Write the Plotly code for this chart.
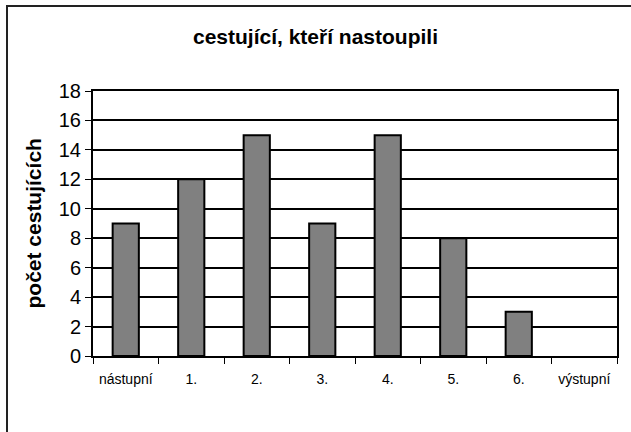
import plotly.graph_objects as go

categories = ["nástupní", "1.", "2.", "3.", "4.", "5.", "6.", "výstupní"]
values = [9, 12, 15, 9, 15, 8, 3, 0]
y_ticks = [0, 2, 4, 6, 8, 10, 12, 14, 16, 18]

W, H = 631, 432
L, R, T, B = 93, 14, 91, 76
pw, ph = W - L - R, H - T - B

def px(x):
    return (x - L) / pw

def py(y):
    return (H - B - y) / ph

fig = go.Figure()
fig.add_trace(go.Bar(
    x=categories, y=values, width=0.4,
    marker=dict(color="#808080",
                line=dict(color="black", width=[2 if v > 0 else 0 for v in values])),
))

fig.update_layout(
    width=W, height=H,
    margin=dict(l=L, r=R, t=T, b=B, autoexpand=False),
    paper_bgcolor="white", plot_bgcolor="white",
    showlegend=False,
    font=dict(family="Liberation Sans, Arial, sans-serif", color="black"),
    title=dict(text="<b>cestující, kteří nastoupili</b>", x=0.5, xref="container",
               xanchor="center", yref="container", y=1 - 37 / H, yanchor="middle",
               font=dict(size=21)),
    shapes=[dict(type="rect", xref="paper", yref="paper",
                 x0=px(7), x1=px(645), y0=py(6), y1=py(445),
                 line=dict(color="#222", width=2), layer="below")],
    annotations=[dict(text="<b>počet cestujících</b>", xref="paper", yref="paper",
                      x=px(33), y=0.5, xanchor="center", yanchor="middle",
                      textangle=-90, showarrow=False, font=dict(size=21))],
)
fig.update_xaxes(
    type="category", tickson="boundaries", ticks="outside", ticklen=6,
    tickwidth=1, tickcolor="black", showline=True, linecolor="black",
    linewidth=2, mirror=True, showgrid=False, tickfont=dict(size=14),
    ticklabelstandoff=9, automargin=False,
)
fig.update_yaxes(
    range=[0, 18], tickvals=y_ticks, ticks="outside", ticklen=6,
    tickwidth=1, tickcolor="black", showline=True, linecolor="black",
    linewidth=2, mirror=True, showgrid=True, gridcolor="black", gridwidth=2,
    zeroline=False, tickfont=dict(size=20), automargin=False,
)

fig.write_html("out.html", config={"displayModeBar": False},
               post_script="document.body.style.margin='0px';")
